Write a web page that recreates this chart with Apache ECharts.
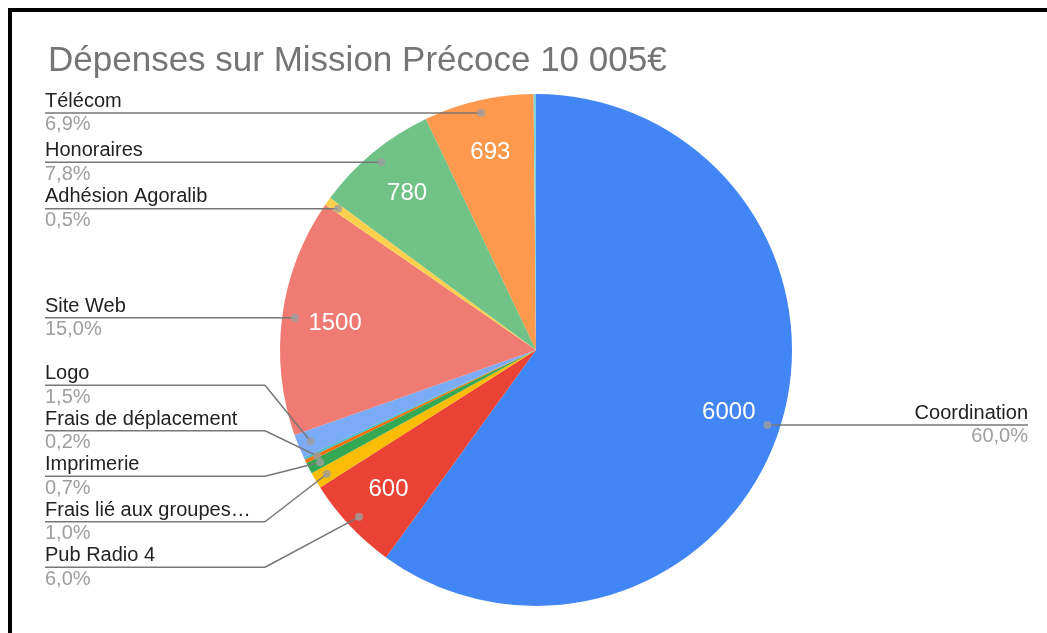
<!DOCTYPE html>
<html>
<head>
<meta charset="utf-8">
<script src="https://cdn.jsdelivr.net/npm/echarts@6/dist/echarts.min.js"></script>
<style>
  html, body { margin: 0; padding: 0; overflow: hidden; background: #fff; }
  #chart { width: 1047px; height: 633px; }
  .frame {
    position: absolute; left: 8px; top: 8px; width: 1100px; height: 700px;
    border: 4px solid #000; pointer-events: none;
  }
</style>
</head>
<body>
<div id="chart"></div>
<div class="frame"></div>
<script>
// postes de dépenses (ordre horaire depuis midi)
const names = ['Coordination', 'Pub Radio 4', 'Frais lié aux groupes…', 'Imprimerie',
  'Frais de déplacement', '', 'Logo', 'Site Web', 'Adhésion Agoralib', 'Honoraires', 'Télécom', '']
const values = [6000, 600, 104, 72, 22, 15, 152, 1500, 52, 780, 693, 15]
const colors = ['#4285F4', '#EA4335', '#FBBC04', '#34A853', '#FF6D01', '#46BDC6',
  '#7BAAF7', '#F07B72', '#FCD04F', '#71C287', '#FF994D', '#7ED1D7']
// étiquettes du groupe du bas (empilées vers le bas de la zone)
const lowerGroup = ['Logo', 'Frais de déplacement', 'Imprimerie', 'Frais lié aux groupes…', 'Pub Radio 4']

const total = values.reduce((a, b) => a + b, 0)
const font = '"Liberation Sans", Arial, sans-serif'

// centre et rayon
const cx = 536, cy = 350, R = 256
const boxLeft = 35, boxRight = 9

// points gris : milieu de chaque part
let acc = 0
const dots = []
values.forEach((v, i) => {
  if (names[i]) dots.push([0.95, acc + v / 2])
  acc += v
})

function labelSeries(showFn, bottom) {
  return {
    type: 'pie',
    z: 5,
    left: boxLeft, right: boxRight, top: 0, bottom: bottom,
    center: [cx - boxLeft, cy],
    radius: [0, R * 0.95],
    silent: true,
    itemStyle: { color: 'rgba(0,0,0,0)' },
    label: {
      alignTo: 'edge',
      edgeDistance: 10,
      distanceToLabelLine: 0,
      fontFamily: font,
      formatter: (p) =>
        '{n|' + p.name + '}\n{hr|}\n{p|' + p.percent.toFixed(1).replace('.', ',') + '%}',
      rich: {
        n: { color: '#222', fontSize: 20, lineHeight: 22, fontFamily: font },
        hr: { backgroundColor: '#777', width: 220, height: 1.5 },
        p: { color: '#9e9e9e', fontSize: 20, lineHeight: 22, fontFamily: font },
      },
    },
    labelLine: {
      length: 0, length2: 10, minTurnAngle: 0, maxSurfaceAngle: 180,
      lineStyle: { color: '#777', width: 1.5 },
    },
    // trait direct du point jusqu'au coude sous le texte
    labelLayout: function (params) {
      const pts = params.labelLinePoints
      if (!pts) return {}
      const end = pts[pts.length - 1]
      return { labelLinePoints: [pts[0], end.slice(), end.slice()] }
    },
    data: values.map((v, i) => ({
      name: names[i],
      value: v,
      label: { show: showFn(names[i]) },
      labelLine: { show: showFn(names[i]) },
    })),
  }
}

let myChart = echarts.init(document.getElementById('chart'))
let option = {
  animation: false,
  title: {
    text: 'Dépenses sur Mission Précoce 10 005€',
    left: 43,
    top: 39,
    textStyle: { color: '#757575', fontSize: 35, fontWeight: 'normal', fontFamily: font },
  },
  polar: { center: [cx, cy], radius: R },
  angleAxis: { type: 'value', min: 0, max: total, startAngle: 90, show: false },
  radiusAxis: { type: 'value', min: 0, max: 1, show: false },
  series: [
    {
      type: 'pie',
      left: boxLeft, right: boxRight, top: 0, bottom: 0,
      center: [cx - boxLeft, cy],
      radius: [0, R],
      silent: true,
      label: { show: false },
      labelLine: { show: false },
      data: values.map((v, i) => ({ name: names[i], value: v, itemStyle: { color: colors[i] } })),
    },
    {
      // valeurs dans les parts
      type: 'pie',
      left: boxLeft, right: boxRight, top: 0, bottom: 0,
      center: [cx - boxLeft, cy],
      radius: [R * 0.56, R],
      silent: true,
      itemStyle: { color: 'rgba(0,0,0,0)' },
      label: {
        position: 'inside',
        color: '#fff',
        fontSize: 24,
        fontFamily: font,
        formatter: (p) => (p.value >= 500 ? p.value : ''),
      },
      labelLine: { show: false },
      data: values.map((v, i) => ({ name: names[i], value: v })),
    },
    labelSeries((n) => n !== '' && lowerGroup.indexOf(n) < 0, 0),
    labelSeries((n) => lowerGroup.indexOf(n) >= 0, 43),
    {
      type: 'scatter',
      coordinateSystem: 'polar',
      z: 6,
      symbolSize: 8,
      silent: true,
      itemStyle: { color: '#9e9e9e' },
      data: dots,
    },
  ],
}
myChart.setOption(option)
</script>
</body>
</html>
